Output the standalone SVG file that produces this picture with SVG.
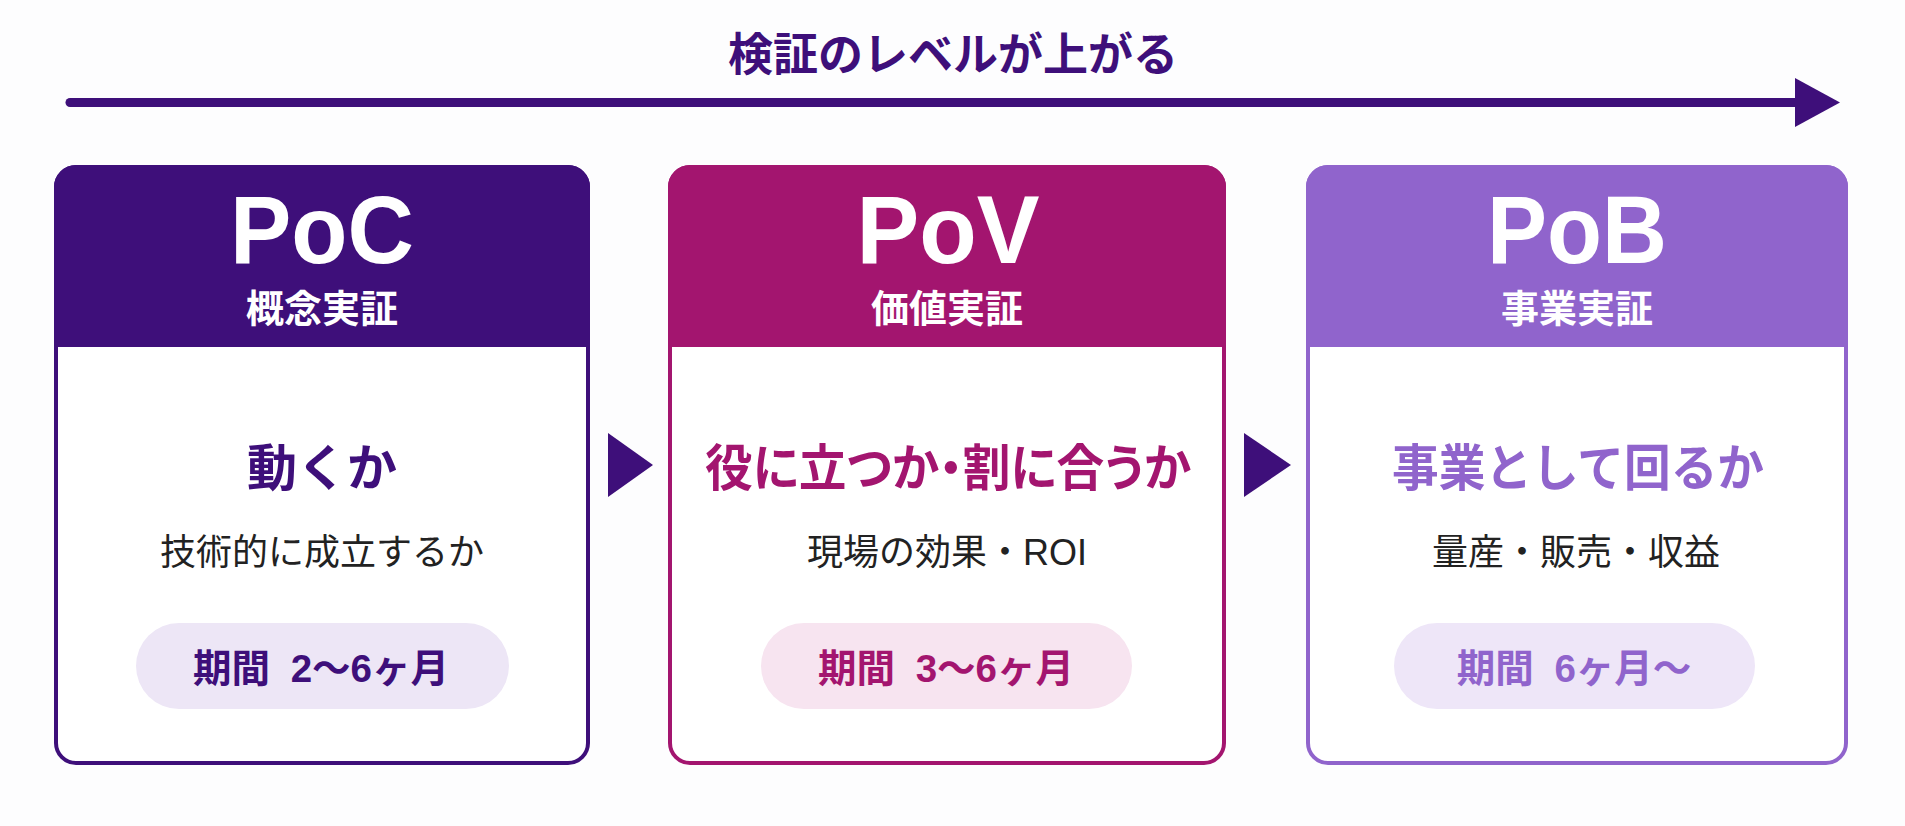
<svg xmlns="http://www.w3.org/2000/svg" width="1905" height="826" viewBox="0 0 1905 826">
<style>
.t{font-family:"Liberation Sans","Noto Sans CJK JP",sans-serif;text-anchor:middle}
.big{font-size:96px;font-weight:700;fill:#fff}
.sub{font-size:38px;font-weight:700;fill:#fff;font-family:"Noto Sans CJK JP",sans-serif}
.head{font-size:50px;font-weight:700;font-family:"Noto Sans CJK JP",sans-serif}
.desc{font-size:36px;font-weight:400;fill:#222}
.pill{font-size:38.5px;font-weight:700;word-spacing:10px}
.c1{fill:#3E0F7A}.c2{fill:#A3156F}.c3{fill:#9064CC}
</style>
<rect width="1905" height="826" fill="#FDFDFE"/>
<g id="title">
<text class="t" x="953" y="71" style="font-size:45px;font-weight:700;fill:#3E0F7A;font-family:'Noto Sans CJK JP',sans-serif">検証のレベルが上がる</text>
</g>
<g id="connectors">
<line x1="70" y1="102.5" x2="1800" y2="102.5" stroke="#3E0F7A" stroke-width="9" stroke-linecap="round"/>
<polygon points="1795,78 1795,127 1840,102.5" fill="#3E0F7A"/>
<polygon points="608,433 608,497 653,465" fill="#3E0F7A"/>
<polygon points="1244,433 1244,497 1291,465" fill="#3E0F7A"/>
</g>
<g id="poc">
<rect x="56" y="167" width="532" height="596" rx="20" fill="#FFFFFF" stroke="#3E0F7A" stroke-width="4"/>
<path d="M54,347 V187 A22,22 0 0 1 76,165 H568 A22,22 0 0 1 590,187 V347 Z" fill="#3E0F7A"/>
<text class="t big" x="322" y="263" textLength="184" lengthAdjust="spacingAndGlyphs">PoC</text>
<text class="t sub" x="322" y="322">概念実証</text>
<text class="t head c1" x="322" y="486">動くか</text>
<text class="t desc" x="322" y="565">技術的に成立するか</text>
<rect x="136" y="623" width="373" height="86" rx="43" fill="#EDE6F6"/>
<text class="t pill c1" x="321" y="682">期間 2〜6ヶ月</text>
</g>
<g id="pov">
<rect x="670" y="167" width="554" height="596" rx="20" fill="#FFFFFF" stroke="#A3156F" stroke-width="4"/>
<path d="M668,347 V187 A22,22 0 0 1 690,165 H1204 A22,22 0 0 1 1226,187 V347 Z" fill="#A3156F"/>
<text class="t big" x="948" y="263" textLength="183" lengthAdjust="spacingAndGlyphs">PoV</text>
<text class="t sub" x="947" y="322">価値実証</text>
<text class="t head c2" x="948" y="486" textLength="486" lengthAdjust="spacingAndGlyphs" style="font-feature-settings:'palt'">役に立つか・割に合うか</text>
<text class="t desc" x="947" y="565">現場の効果・ROI</text>
<rect x="761" y="623" width="371" height="86" rx="43" fill="#F7E4F0"/>
<text class="t pill c2" x="946" y="682">期間 3〜6ヶ月</text>
</g>
<g id="pob">
<rect x="1308" y="167" width="538" height="596" rx="20" fill="#FFFFFF" stroke="#9064CC" stroke-width="4"/>
<path d="M1306,347 V187 A22,22 0 0 1 1328,165 H1826 A22,22 0 0 1 1848,187 V347 Z" fill="#9064CC"/>
<text class="t big" x="1577" y="263" textLength="180" lengthAdjust="spacingAndGlyphs">PoB</text>
<text class="t sub" x="1577" y="322">事業実証</text>
<text class="t head c3" x="1578" y="486" textLength="372" lengthAdjust="spacingAndGlyphs">事業として回るか</text>
<text class="t desc" x="1576" y="565">量産・販売・収益</text>
<rect x="1394" y="623" width="361" height="86" rx="43" fill="#EEE6F8"/>
<text class="t pill c3" x="1574" y="682">期間 6ヶ月〜</text>
</g>
</svg>
